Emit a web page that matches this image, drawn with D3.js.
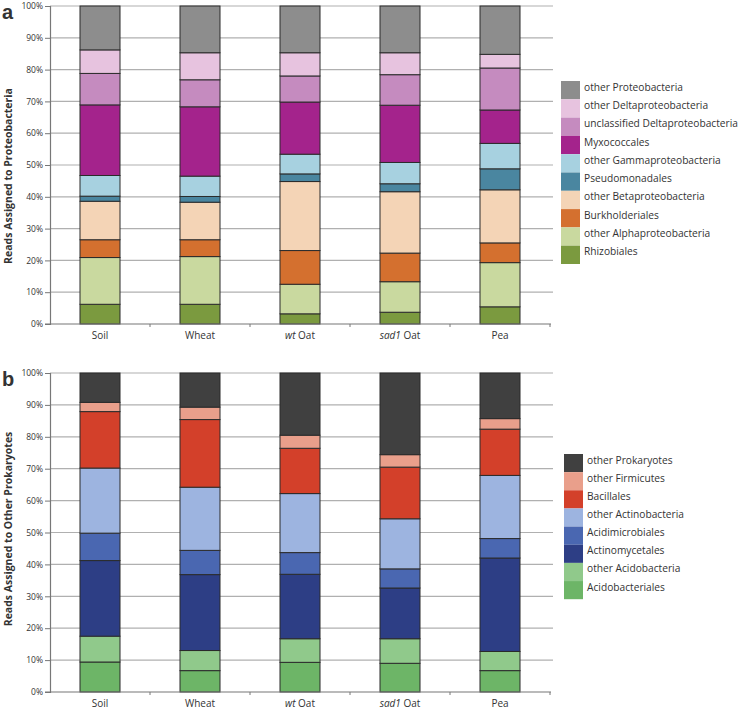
<!DOCTYPE html>
<html>
<head>
<meta charset="utf-8">
<script src="https://cdn.jsdelivr.net/npm/d3@7/dist/d3.min.js"></script>
<style>
  body { margin: 0; background: #fff; }
  svg { display: block; }
  text { font-family: "Open Sans", sans-serif; fill: #333; }
</style>
</head>
<body>
<svg id="chart" width="743" height="709"></svg>
<script>
// ---------- DATA ----------
const categories = ["Soil", "Wheat", "wt Oat", "sad1 Oat", "Pea"];
const yTicks = [0, 10, 20, 30, 40, 50, 60, 70, 80, 90, 100];

// Panel a (Proteobacteria), bottom to top, percent of reads per category
const seriesA = ["Rhizobiales", "other Alphaproteobacteria", "Burkholderiales", "other Betaproteobacteria",
  "Pseudomonadales", "other Gammaproteobacteria", "Myxococcales", "unclassified Deltaproteobacteria",
  "other Deltaproteobacteria", "other Proteobacteria"];
const rhizobiales      = [6.2, 6.2, 3.2, 3.7, 5.4];
const otherAlpha       = [14.7, 15.0, 9.3, 9.6, 13.9];
const burkholderiales  = [5.6, 5.3, 10.6, 9.0, 6.2];
const otherBeta        = [12.1, 11.8, 21.7, 19.3, 16.7];
const pseudomonadales  = [1.6, 1.8, 2.4, 2.5, 6.6];
const otherGamma       = [6.5, 6.4, 6.2, 6.7, 8.0];
const myxococcales     = [22.2, 21.8, 16.4, 18.0, 10.5];
const unclassDelta     = [9.9, 8.5, 8.2, 9.6, 13.2];
const otherDelta       = [7.4, 8.5, 7.3, 6.9, 4.3];
const otherProteo      = [13.8, 14.7, 14.7, 14.7, 15.2];
const colorsA = ["#7b9a3f", "#c9d99f", "#d4702f", "#f4d4b6", "#4a86a0", "#a7d1e0",
  "#a4238c", "#c58bbf", "#e7c3df", "#8d8d8d"];

// Panel b (other prokaryotes)
const seriesB = ["Acidobacteriales", "other Acidobacteria", "Actinomycetales", "Acidimicrobiales",
  "other Actinobacteria", "Bacillales", "other Firmicutes", "other Prokaryotes"];
const acidobacteriales = [9.4, 6.7, 9.3, 9.0, 6.7];
const otherAcido       = [8.1, 6.3, 7.4, 7.7, 6.0];
const actinomycetales  = [23.7, 23.8, 20.2, 15.9, 29.3];
const acidimicrobiales = [8.6, 7.6, 6.8, 6.0, 6.1];
const otherActino      = [20.4, 19.8, 18.5, 15.7, 19.8];
const bacillales       = [17.7, 21.2, 14.2, 16.2, 14.5];
const otherFirmicutes  = [2.9, 3.9, 4.1, 3.9, 3.3];
const otherProk        = [9.2, 10.7, 19.5, 25.6, 14.3];
const colorsB = ["#6db567", "#90c98b", "#2d3e85", "#4a67b1", "#9db4e0", "#d3402a", "#e99f8b", "#404040"];

const valuesA = [rhizobiales, otherAlpha, burkholderiales, otherBeta, pseudomonadales, otherGamma,
  myxococcales, unclassDelta, otherDelta, otherProteo];
const valuesB = [acidobacteriales, otherAcido, actinomycetales, acidimicrobiales, otherActino,
  bacillales, otherFirmicutes, otherProk];

// ---------- DRAW ----------
const svg = d3.select("#chart");

function panel(opts) {
  const { top, bottom, series, values, colors, title, letter, legendTop, legendSwatchX, legendTextX, step } = opts;
  const rows = categories.map((c, i) => {
    const r = { cat: c };
    series.forEach((s, j) => r[s] = values[j][i]);
    return r;
  });
  const x = d3.scaleBand().domain(categories).range([50, 550]).paddingInner(0.6).paddingOuter(0.3);
  const y = d3.scaleLinear().domain([0, 100]).range([bottom, top]);
  const g = svg.append("g");

  // gridlines
  g.append("g").selectAll("line").data(yTicks.filter(t => t > 0)).join("line")
    .attr("x1", 50).attr("x2", 553)
    .attr("y1", d => y(d)).attr("y2", d => y(d))
    .attr("stroke", "#b0b0b0").attr("stroke-width", 1.2);

  // y axis
  const yAxis = d3.axisLeft(y).tickValues(yTicks).tickFormat(d => d + "%").tickSize(5).tickPadding(2);
  const ya = g.append("g").attr("transform", "translate(50,0)").call(yAxis);
  ya.select(".domain").attr("stroke", "#777").attr("stroke-width", 1.2);
  ya.selectAll(".tick line").attr("stroke", "#777");
  ya.selectAll("text").attr("font-size", 8.5).attr("fill", "#555").style("font-family", "'Open Sans', sans-serif");

  // bars
  const stack = d3.stack().keys(series);
  const layers = stack(rows);
  g.append("g").selectAll("g").data(layers).join("g")
    .attr("fill", (d, i) => colors[i])
    .selectAll("rect").data(d => d).join("rect")
    .attr("x", d => x(d.data.cat))
    .attr("width", x.bandwidth())
    .attr("y", d => y(d[1]))
    .attr("height", d => y(d[0]) - y(d[1]))
    .attr("stroke", "#2b2b2b").attr("stroke-width", 1);

  // x axis line and ticks at band boundaries
  g.append("line").attr("x1", 45).attr("x2", 551).attr("y1", bottom).attr("y2", bottom)
    .attr("stroke", "#777").attr("stroke-width", 1.2);
  const bounds = d3.range(1, categories.length + 1).map(i => 50 + i * x.step());
  g.append("g").selectAll("line").data(bounds).join("line")
    .attr("x1", d => d).attr("x2", d => d).attr("y1", bottom).attr("y2", bottom + 3)
    .attr("stroke", "#777");

  // category labels
  const lab = g.append("g").selectAll("text").data(categories).join("text")
    .attr("x", d => x(d) + x.bandwidth() / 2)
    .attr("y", bottom + 15)
    .attr("text-anchor", "middle").attr("font-size", 10).attr("fill", "#333");
  lab.each(function (d) {
    const t = d3.select(this);
    const parts = d.split(" ");
    if (parts.length > 1) {
      t.append("tspan").attr("font-style", "italic").text(parts[0]);
      t.append("tspan").text(" " + parts.slice(1).join(" "));
    } else {
      t.text(d);
    }
  });

  // axis title
  g.append("text")
    .attr("transform", `translate(11.5,${opts.titleY}) rotate(-90)`)
    .attr("text-anchor", "middle").attr("font-size", 10.5).attr("font-weight", "bold").attr("fill", "#222")
    .text(title);

  // panel letter
  g.append("text").attr("x", 2).attr("y", top + 12.5).attr("font-size", 20).attr("font-weight", "bold")
    .attr("fill", "#111").style("font-family", "Arial, 'Liberation Sans', sans-serif").text(letter);

  // legend (top to bottom = reverse of stack)
  const legItems = series.map((s, i) => ({ s, c: colors[i] })).reverse();
  const lg = g.append("g");
  lg.selectAll("rect").data(legItems).join("rect")
    .attr("x", legendSwatchX).attr("width", 19)
    .attr("y", (d, i) => legendTop + i * step).attr("height", step)
    .attr("fill", d => d.c);
  lg.selectAll("text").data(legItems).join("text")
    .attr("x", legendTextX)
    .attr("y", (d, i) => legendTop + i * step + step / 2 - 3.5)
    .attr("dominant-baseline", "central")
    .attr("font-size", 10.2).attr("fill", "#444")
    .text(d => d.s);
}

panel({ top: 6, bottom: 324, series: seriesA, values: valuesA, colors: colorsA,
  title: "Reads Assigned to Proteobacteria", letter: "a", titleY: 176,
  legendTop: 81, legendSwatchX: 561, legendTextX: 584, step: 18.3 });

panel({ top: 373, bottom: 692, series: seriesB, values: valuesB, colors: colorsB,
  title: "Reads Assigned to Other Prokaryotes", letter: "b", titleY: 529,
  legendTop: 454, legendSwatchX: 564, legendTextX: 587, step: 18.15 });
</script>
</body>
</html>
